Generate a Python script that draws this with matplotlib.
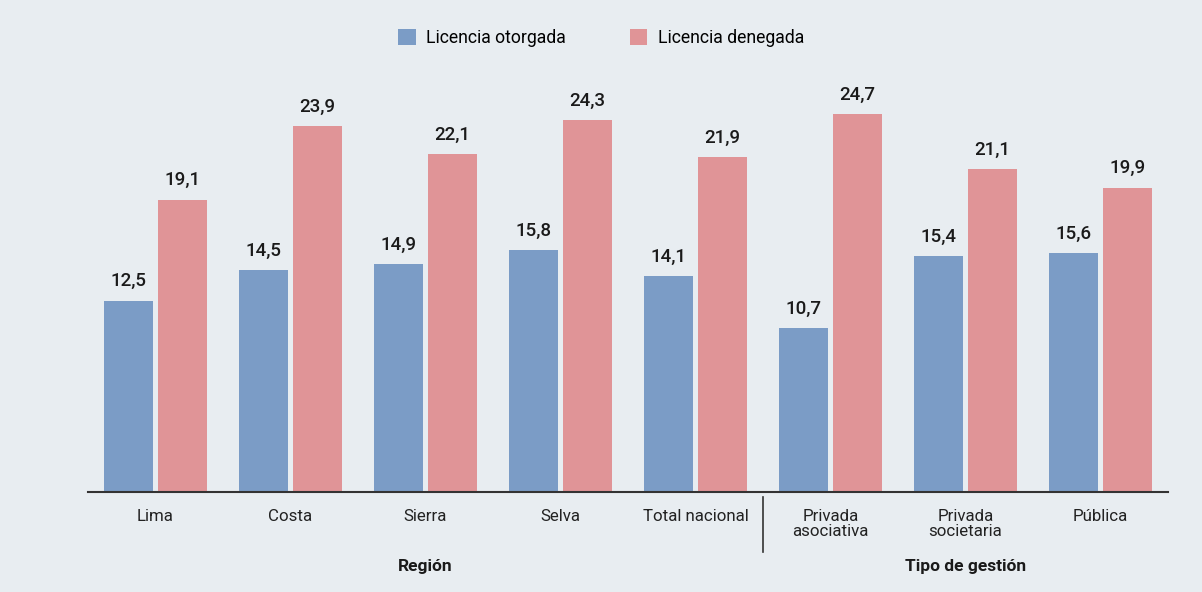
import matplotlib.pyplot as plt
import numpy as np

# data
categories = ["Lima", "Costa", "Sierra", "Selva", "Total nacional",
              "Privada\nasociativa", "Privada\nsocietaria", "Pública"]
otorgada = [12.5, 14.5, 14.9, 15.8, 14.1, 10.7, 15.4, 15.6]
denegada = [19.1, 23.9, 22.1, 24.3, 21.9, 24.7, 21.1, 19.9]
series_names = ["Licencia otorgada", "Licencia denegada"]
group_names = ["Región", "Tipo de gestión"]

bg = "#e8edf1"
c_blue = "#7b9cc6"
c_pink = "#e09497"
txt = "#1a1a1a"

plt.rcParams['font.family'] = ['Roboto', 'DejaVu Sans']

fig = plt.figure(figsize=(12.02, 5.92), dpi=100, facecolor=bg)
ax = fig.add_axes([88 / 1202, 1 - 492 / 592, 1080 / 1202, 412 / 592])
ax.set_facecolor(bg)

x = np.arange(len(categories))
w = 0.363
b1 = ax.bar(x - 0.2, otorgada, w, color=c_blue, label=series_names[0])
b2 = ax.bar(x + 0.2, denegada, w, color=c_pink, label=series_names[1])

for bars, vals in ((b1, otorgada), (b2, denegada)):
    for r, v in zip(bars, vals):
        ax.annotate(f"{v:.1f}".replace(".", ","),
                    (r.get_x() + r.get_width() / 2, r.get_height()),
                    xytext=(0, 7.5), textcoords="offset points",
                    ha="center", va="bottom", fontsize=13.5,
                    fontweight="medium", color=txt)

ax.set_xlim(-0.5, len(categories) - 0.5)
ax.set_ylim(0, 412 / 15.3)

for s in ["top", "right", "left"]:
    ax.spines[s].set_visible(False)
ax.spines["bottom"].set_color("#333333")
ax.spines["bottom"].set_linewidth(1.5)
ax.set_yticks([])
ax.set_xticks(x)
ax.set_xticklabels(categories, fontsize=12.2, color="#222222", va="top",
                   linespacing=1.05)
ax.tick_params(axis="x", length=0, pad=12)

# separator between the two groups
ax.plot([4.5, 4.5], [-0.3, -3.9], color="#333333", lw=1.2, clip_on=False)

# group titles
ax.text(2, -4.9, group_names[0], ha="center", va="center", fontsize=12.5,
        fontweight="bold", color=txt)
ax.text(6, -4.9, group_names[1], ha="center", va="center", fontsize=12.5,
        fontweight="bold", color=txt)

fig.legend(handles=[b1, b2], labels=series_names, loc="center",
           bbox_to_anchor=(0.5, 1 - 38 / 592), ncol=2, frameon=False,
           fontsize=12.7, handlelength=1.0, handleheight=1.0,
           columnspacing=3.6, handletextpad=0.6)

plt.savefig("out.png", dpi=100, facecolor=bg)
